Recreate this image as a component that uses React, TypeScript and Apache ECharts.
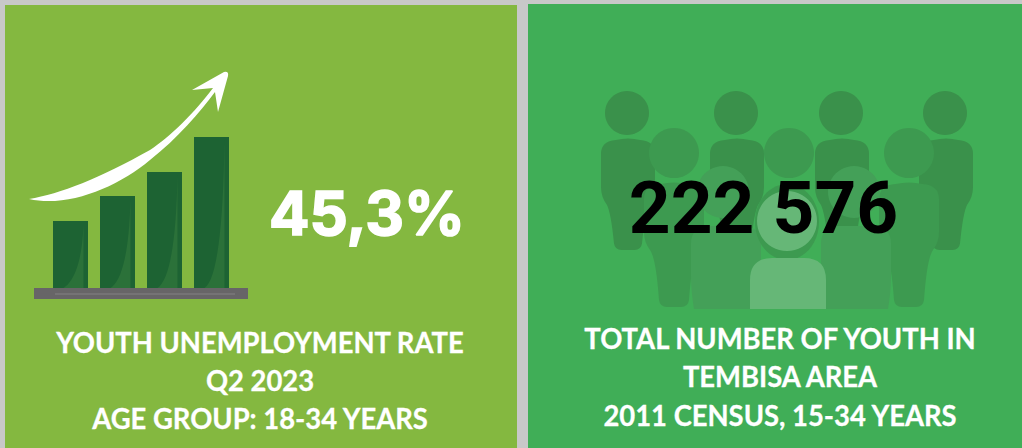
import React, { useEffect, useRef } from "react";
import * as echarts from "echarts";

const iconCategories = ["A", "B", "C", "D"];
const iconBarHeights = [67, 92, 116, 151];
const leftValue = "45,3%";
const rightValue = "222 576";
const leftCaption = ["YOUTH UNEMPLOYMENT RATE", "Q2 2023", "AGE GROUP: 18-34 YEARS"];
const rightCaption = ["TOTAL NUMBER OF YOUTH IN", "TEMBISA AREA", "2011 CENSUS, 15-34 YEARS"];

const arrowPath =
  "M29 199 C60 194 100 178 150 150 C170 137 195 112 213 88 L192 90 L224 72 Q229 71 228 76 L218 112 L215 92 C200 112 178 138 150 160 C118 187 68 208 29 199 Z";

function person(cx: number, top: number, hw: number, wideY: number, legHw: number, bottom: number) {
  const r = hw * 0.55;
  const b = legHw * 0.5;
  return `M${cx - hw} ${top + r} Q${cx - hw} ${top + 2} ${cx - hw + r} ${top + 1} Q${cx} ${top - 2} ${cx + hw - r} ${top + 1} Q${cx + hw} ${top + 2} ${cx + hw} ${top + r} L${cx + hw} ${wideY} Q${cx + hw} ${wideY + 10} ${cx + hw - 6} ${wideY + 18} Q${cx + legHw + 4} ${wideY + 26} ${cx + legHw + 1} ${bottom - b} Q${cx + legHw} ${bottom} ${cx + legHw - b} ${bottom} L${cx - legHw + b} ${bottom} Q${cx - legHw} ${bottom} ${cx - legHw - 1} ${bottom - b} Q${cx - legHw - 4} ${wideY + 26} ${cx - hw + 6} ${wideY + 18} Q${cx - hw} ${wideY + 10} ${cx - hw} ${wideY} Z`;
}

function block(cx: number, top: number, hw: number, bottom: number) {
  const r = hw * 0.5;
  return `M${cx - hw + 3} ${bottom} Q${cx - hw} ${bottom - 18} ${cx - hw} ${bottom - 34} L${cx - hw} ${top + r} Q${cx - hw} ${top + 1} ${cx - hw + r} ${top} L${cx + hw - r} ${top} Q${cx + hw} ${top + 1} ${cx + hw} ${top + r} L${cx + hw} ${bottom - 34} Q${cx + hw} ${bottom - 18} ${cx + hw - 3} ${bottom} Z`;
}

const backPeople = [628, 737, 842, 946];
const midPeople = [674, 909];

echarts.graphic.registerShape("arrowIcon", echarts.graphic.extendPath(arrowPath, {}));
backPeople.forEach((cx, i) =>
  echarts.graphic.registerShape("backP" + i, echarts.graphic.extendPath(person(cx, 139, 27, 187, 13, 250), {}))
);
midPeople.forEach((cx, i) =>
  echarts.graphic.registerShape("midP" + i, echarts.graphic.extendPath(person(cx, 183, 30, 232, 14, 307), {}))
);
echarts.graphic.registerShape("frontL", echarts.graphic.extendPath(block(726, 226, 35, 309), {}));
echarts.graphic.registerShape("frontR", echarts.graphic.extendPath(block(856, 226, 35, 309), {}));
const centerBody = "M750 309 L750 280 Q750 258 772 258 L804 258 Q826 258 826 280 L826 309 Z";
echarts.graphic.registerShape("centerBody", echarts.graphic.extendPath(centerBody, {}));

const BACK = "#3A914B";
const MID = "#3D9A50";
const FRONT = "#44A058";
const CENTER = "#66B777";

const captionFont = {
  fontFamily: "Lato",
  fontWeight: 700,
  fontSize: 29,
  fill: "#ffffff",
  stroke: "#ffffff",
  lineWidth: 0.3,
  align: "center",
  verticalAlign: "middle",
};

function captionEls(lines: string[], x: number, ys: number[]) {
  return lines.map((text, i) => ({
    type: "text",
    z: 20,
    x,
    y: ys[i],
    scaleX: 0.945,
    style: { ...captionFont, text, x: 0, y: 0 },
  }));
}

export default function App() {
  const ref = useRef<HTMLDivElement>(null);
  useEffect(() => {
    document.body.style.margin = "0";
    const chart = echarts.init(ref.current!, undefined, { renderer: "svg" });
    const option: any = {
      animation: false,
      backgroundColor: "#C8C8C8",
      grid: { left: 47, top: 137, width: 188, height: 151 },
      xAxis: { type: "category", data: iconCategories, show: false },
      yAxis: { type: "value", min: 0, max: 151, show: false, splitLine: { show: false } },
      series: [
        {
          type: "bar",
          data: iconBarHeights,
          barWidth: 35,
          z: 5,
          itemStyle: { color: "#1D6333" },
          silent: true,
        },
        {
          type: "custom",
          z: 6,
          silent: true,
          data: iconBarHeights.map((v, i) => [i, v]),
          renderItem: (_p: any, api: any) => {
            const [cx, bottom] = api.coord([api.value(0), 0]);
            const [, top] = api.coord([api.value(0), api.value(1)]);
            const x0 = cx - 7;
            const x1 = cx + 13;
            const y1 = top + 3;
            const cX = cx + 11;
            const cY = bottom - 12;
            const pts: number[][] = [[x1, bottom]];
            for (let k = 0; k <= 16; k++) {
              const t = k / 16;
              pts.push([
                (1 - t) * (1 - t) * x0 + 2 * t * (1 - t) * cX + t * t * x1,
                (1 - t) * (1 - t) * bottom + 2 * t * (1 - t) * cY + t * t * y1,
              ]);
            }
            return { type: "polygon", shape: { points: pts }, style: { fill: "#2B7139" } };
          },
        },
      ],
      graphic: {
        elements: [
          { type: "rect", z: 1, shape: { x: 5, y: 5, width: 512, height: 443 }, style: { fill: "#84B840" } },
          { type: "rect", z: 1, shape: { x: 528, y: 4, width: 494, height: 444 }, style: { fill: "#40AE57" } },
          { type: "rect", z: 10, shape: { x: 34, y: 288, width: 214, height: 11 }, style: { fill: "#676567" } },
          { type: "rect", z: 11, shape: { x: 55, y: 293, width: 180, height: 2 }, style: { fill: "#757375" } },
          { type: "arrowIcon", z: 12, style: { fill: "#ffffff" } },
          ...backPeople.flatMap((cx, i) => [
            { type: "circle", z: 2, shape: { cx: cx - 1, cy: 113, r: 22 }, style: { fill: BACK } },
            { type: "backP" + i, z: 2, style: { fill: BACK } },
          ]),
          { type: "circle", z: 3, shape: { cx: 789, cy: 153, r: 25 }, style: { fill: MID } },
          ...midPeople.flatMap((cx, i) => [
            { type: "circle", z: 3, shape: { cx, cy: 153, r: 25 }, style: { fill: MID } },
            { type: "midP" + i, z: 3, style: { fill: MID } },
          ]),
          { type: "circle", z: 3, shape: { cx: 723, cy: 192, r: 26 }, style: { fill: FRONT } },
          { type: "circle", z: 3, shape: { cx: 854, cy: 192, r: 26 }, style: { fill: FRONT } },
          { type: "frontL", z: 3, style: { fill: FRONT } },
          { type: "frontR", z: 3, style: { fill: FRONT } },
          { type: "ellipse", z: 4, shape: { cx: 787, cy: 222, rx: 32, ry: 38 }, style: { fill: MID } },
          { type: "circle", z: 4, shape: { cx: 787, cy: 221, r: 30 }, style: { fill: CENTER } },
          { type: "centerBody", z: 4, style: { fill: CENTER } },
          {
            type: "text",
            z: 20,
            style: { text: leftValue, x: 367, y: 213, fontFamily: "Inter", fontWeight: 700, fontSize: 60, fill: "#ffffff", stroke: "#ffffff", lineWidth: 1.6, align: "center", verticalAlign: "middle" },
          },
          {
            type: "text",
            z: 20,
            style: { text: rightValue, x: 763.5, y: 208, fontFamily: "Roboto", fontWeight: 700, fontSize: 73, fill: "#000000", align: "center", verticalAlign: "middle" },
          },
          ...captionEls(leftCaption, 260, [342, 380, 418]),
          ...captionEls(rightCaption, 780, [338, 376, 415]),
        ],
      },
    };
    chart.setOption(option);
    return () => chart.dispose();
  }, []);
  return <div ref={ref} style={{ width: 1022, height: 448 }} />;
}
